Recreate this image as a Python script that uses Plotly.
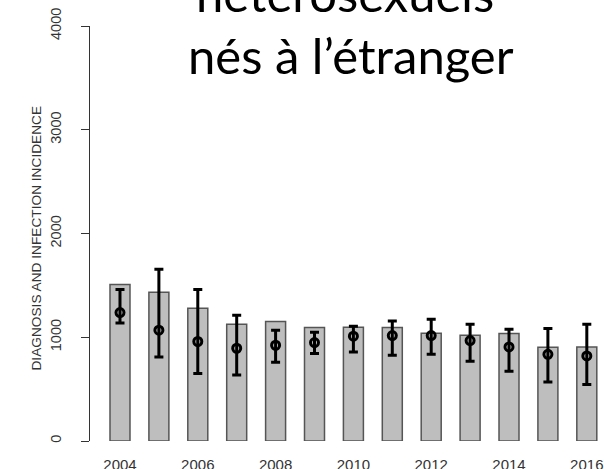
import plotly.graph_objects as go

# Data
years = list(range(2004, 2017))
diagnoses = [1508, 1434, 1280, 1126, 1152, 1094, 1097, 1094, 1039, 1019, 1036, 904, 907]
incidence = [1238, 1068, 959, 894, 923, 949, 1010, 1016, 1016, 968, 907, 836, 820]
ci_upper = [1460, 1656, 1460, 1212, 1068, 1048, 1106, 1157, 1174, 1126, 1077, 1084, 1126]
ci_lower = [1138, 810, 650, 637, 759, 843, 858, 826, 836, 769, 672, 569, 544]

y_ticks = [0, 1000, 2000, 3000, 4000]
x_ticks = [2004, 2006, 2008, 2010, 2012, 2014, 2016]

err_plus = [u - v for u, v in zip(ci_upper, incidence)]
err_minus = [v - l for v, l in zip(incidence, ci_lower)]

fig = go.Figure()

fig.add_trace(go.Bar(
    x=years,
    y=diagnoses,
    width=0.514,
    marker=dict(color="#BEBEBE", line=dict(color="#555555", width=1.5)),
    hoverinfo="skip",
))

fig.add_trace(go.Scatter(
    x=years,
    y=incidence,
    mode="markers",
    marker=dict(symbol="circle-open", size=8, color="black", line=dict(width=3, color="black")),
    error_y=dict(
        type="data",
        symmetric=False,
        array=err_plus,
        arrayminus=err_minus,
        color="black",
        thickness=3,
        width=4.5,
    ),
))

FONT = "Liberation Sans, Arial, sans-serif"
TITLE_FONT = dict(family="Lato, sans-serif", size=49, color="black")

fig.update_layout(
    width=604,
    height=469,
    margin=dict(l=90, r=0, t=26, b=28.3),
    paper_bgcolor="white",
    plot_bgcolor="white",
    showlegend=False,
    xaxis=dict(
        range=[2003.229, 2016.442],
        tickvals=x_ticks,
        showline=False,
        showgrid=False,
        zeroline=False,
        ticks="outside",
        ticklen=10,
        tickcolor="rgba(0,0,0,0)",
        tickfont=dict(family=FONT, size=15, color="#333333"),
        ticklabeloverflow="allow",
        automargin=False,
    ),
    yaxis=dict(
        range=[0, 4000],
        tickvals=y_ticks,
        showline=True,
        linecolor="#333333",
        linewidth=1,
        showgrid=False,
        zeroline=False,
        ticks="outside",
        ticklen=8,
        tickcolor="#333333",
        tickangle=-90,
        ticklabelstandoff=14,
        tickfont=dict(family=FONT, size=14.5, color="#333333"),
        automargin=False,
    ),
    annotations=[
        dict(
            text="DIAGNOSIS AND INFECTION INCIDENCE",
            xref="paper", yref="paper",
            x=-0.1226, y=0.489,
            yanchor="middle",
            textangle=-90,
            showarrow=False,
            font=dict(family=FONT, size=13.7, color="#333333"),
        ),
        dict(
            text="hétérosexuels",
            xref="paper", yref="paper",
            x=0.496, y=1.08,
            yanchor="middle",
            showarrow=False,
            font=TITLE_FONT,
        ),
        dict(
            text="nés à l’étranger",
            xref="paper", yref="paper",
            x=0.508, y=0.930,
            yanchor="middle",
            showarrow=False,
            font=TITLE_FONT,
        ),
    ],
)

# the page has a default 8px body margin; drop it so the figure fills the window
fig.write_html(
    "out.html",
    config={"displayModeBar": False},
    post_script="document.body.style.margin='0';",
)
